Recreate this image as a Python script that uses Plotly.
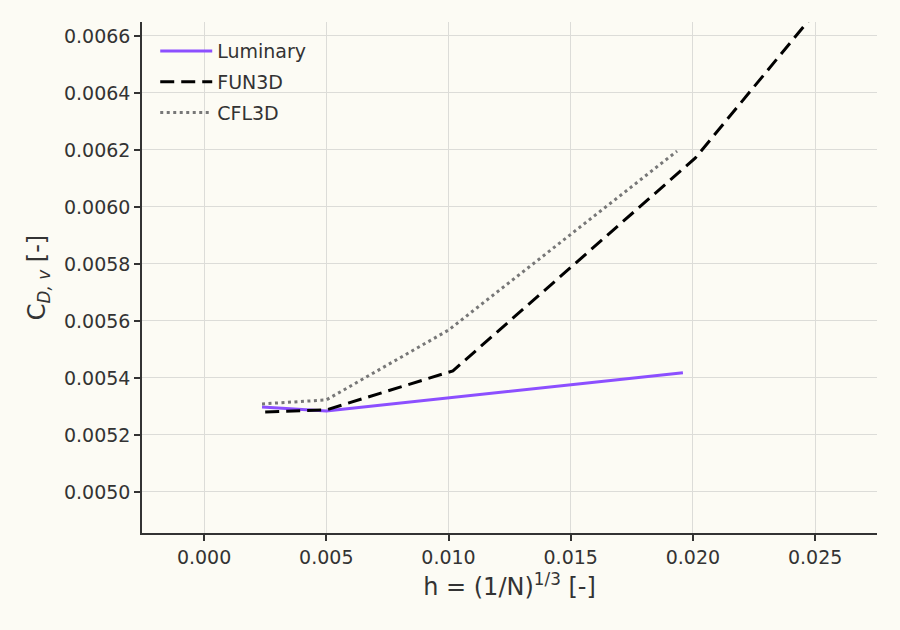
import plotly.graph_objects as go

lum_h = [0.00237, 0.0050, 0.01959]
lum_cd = [0.005298, 0.005284, 0.005418]

fun_h = [0.0025, 0.0050, 0.01018, 0.0201, 0.0294]
fun_cd = [0.005281, 0.005288, 0.005425, 0.006172, 0.007140]

cfl_h = [0.00237, 0.0050, 0.0100, 0.01935]
cfl_cd = [0.005309, 0.005323, 0.005568, 0.006196]

x_ticks = [0.000, 0.005, 0.010, 0.015, 0.020, 0.025]
y_ticks = [0.0050, 0.0052, 0.0054, 0.0056, 0.0058, 0.0060, 0.0062, 0.0064, 0.0066]

bg = "#fcfbf4"
axcol = "#333333"
grid = "#dcdcd8"
font = "DejaVu Sans"

fig = go.Figure()
fig.add_trace(go.Scatter(x=lum_h, y=lum_cd, mode="lines", name="Luminary", legendgroup="a",
                         line=dict(color="#8c4fff", width=3)))
fig.add_trace(go.Scatter(x=fun_h, y=fun_cd, mode="lines", name="FUN3D", legendgroup="b",
                         line=dict(color="black", width=3, dash="14px,7px")))
fig.add_trace(go.Scatter(x=cfl_h, y=cfl_cd, mode="lines", name="CFL3D", legendgroup="c",
                         line=dict(color="#777777", width=3, dash="3px,3.5px")))

fig.update_layout(
    width=900, height=630,
    paper_bgcolor=bg, plot_bgcolor=bg,
    margin=dict(l=142, r=23, t=22, b=97),
    font=dict(family=font, size=19, color=axcol),
    showlegend=True,
    legend=dict(x=0.018, y=0.98, xanchor="left", yanchor="top",
                bgcolor="rgba(0,0,0,0)", font=dict(size=19, color=axcol),
                tracegroupgap=3, itemwidth=52),
)
fig.update_xaxes(
    range=[-0.00254, 0.02753], tickvals=x_ticks,
    ticktext=[f"{v:.3f}" for v in x_ticks],
    showgrid=True, gridcolor=grid, gridwidth=1, zeroline=False,
    showline=True, linecolor=axcol, linewidth=1.5, mirror=False,
    ticks="outside", ticklen=6, tickcolor=axcol, tickwidth=1.5,
    tickfont=dict(size=19, color=axcol),
    title=dict(text="h = (1/N)<sup>1/3</sup> [-]", font=dict(size=24, color=axcol), standoff=12),
)
fig.update_yaxes(
    range=[0.004856, 0.006649], tickvals=y_ticks,
    ticktext=[f"{v:.4f}" for v in y_ticks],
    showgrid=True, gridcolor=grid, gridwidth=1, zeroline=False,
    showline=True, linecolor=axcol, linewidth=1.5, mirror=False,
    ticks="outside", ticklen=6, tickcolor=axcol, tickwidth=1.5,
    tickfont=dict(size=19, color=axcol),
    title=dict(text="C<sub><i>D, v</i></sub> [-]", font=dict(size=24, color=axcol), standoff=12),
)

fig.write_html(
    "out.html",
    config={"displayModeBar": False},
    post_script="document.body.style.margin='0';document.body.style.background='#fcfbf4';document.body.style.overflow='hidden';",
)
